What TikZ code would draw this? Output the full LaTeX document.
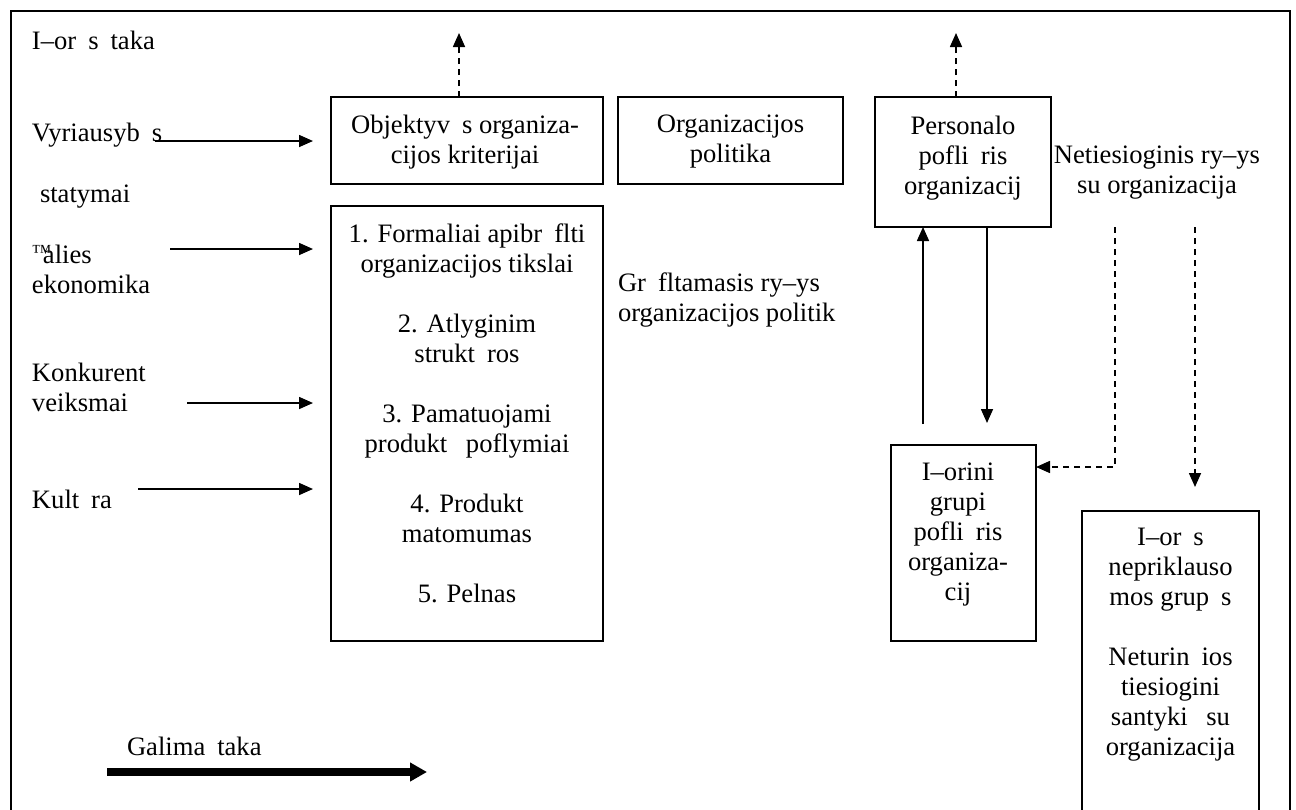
\documentclass[tikz,border=0pt]{standalone}
\usepackage{fontspec}
\setmainfont{Liberation Serif}
\usetikzlibrary{arrows.meta}
% gap standing in for a letter the source font could not show
\newcommand\lthole{\hspace{0.45em}}
\begin{document}
\begin{tikzpicture}[x=0.5pt,y=-0.5pt,
  txt/.style={font=\fontsize{13.3}{15}\selectfont, inner sep=0pt, outer sep=0pt, execute at begin node=\strut},
  box/.style={draw, line width=1pt, inner sep=0pt, outer sep=0pt},
  arr/.style={line width=0.8pt, -{Triangle[length=7pt,width=6pt]}},
  darr/.style={arr, dash pattern=on 3pt off 2.5pt},
  bigarr/.style={line width=4pt, -{Triangle[length=8.5pt,width=9pt]}}
]
\useasboundingbox (0,0) rectangle (1296,809);
\clip (0,0) rectangle (1296,809);

% outer frame (open at the bottom of the page)
\node[box, anchor=north west, minimum width=639.5pt, minimum height=420pt] (frame) at (11,11) {};

% boxes
\node[box, anchor=north west, minimum width=136pt,  minimum height=43.5pt]  (b1) at (331,97)  {};
\node[box, anchor=north west, minimum width=112.5pt,minimum height=43.5pt]  (b2) at (618,97)  {};
\node[box, anchor=north west, minimum width=88pt,   minimum height=65pt]    (b3) at (875,97)  {};
\node[box, anchor=north west, minimum width=136pt,  minimum height=217.5pt] (b4) at (331,206) {};
\node[box, anchor=north west, minimum width=72.5pt, minimum height=98pt]    (b5) at (891,445) {};
\node[box, anchor=north west, minimum width=88.5pt, minimum height=170pt]   (b6) at (1082,511) {};

% box texts
\node[txt, anchor=north, align=center] (t1) at (465,115)
  {Objektyv\lthole s organiza-\\cijos kriterijai};
\node[txt, anchor=north, align=center] (t2) at (730.5,115)
  {Organizacijos\\politika};
\node[txt, anchor=north, align=center] (t3) at (963,116)
  {Personalo\\pofli\lthole ris\\organizacij};
\node[txt, anchor=north, align=center] (t4) at (467,224)
  {1. Formaliai apibr\lthole flti\\organizacijos tikslai\\[15pt]
   2. Atlyginim\\strukt\lthole ros\\[15pt]
   3. Pamatuojami\\produkt\lthole\ poflymiai\\[15pt]
   4. Produkt\\matomumas\\[15pt]
   5. Pelnas};
\node[txt, anchor=north, align=center] (t5) at (958,463)
  {I–orini\\grupi\\pofli\lthole ris\\organiza-\\cij};
\node[txt, anchor=north, align=center] (t6) at (1170.5,528)
  {I–or\lthole s\\nepriklauso\\mos grup\lthole s\\[15pt]
   Neturin\lthole ios\\tiesiogini\\santyki\lthole\ su\\organizacija};

% free labels
\node[txt, anchor=north west] (l0) at (32,28) {I–or\lthole s\lthole taka};
\node[txt, anchor=north west] (l1) at (32,120) {Vyriausyb\lthole s};
\node[txt, anchor=north west] (l2) at (40,181) {statymai};
\node[txt, anchor=north west, align=left] (l3) at (32,245)
  {\raisebox{2.4pt}{\fontsize{10}{10}\selectfont ™}\kern-4.3pt alies\\ekonomika};
\node[txt, anchor=north west, align=left] (l4) at (32,363) {Konkurent\\veiksmai};
\node[txt, anchor=north west] (l5) at (32,487) {Kult\lthole ra};
\node[txt, anchor=north west] (l6) at (127,734) {Galima\lthole taka};
\node[txt, anchor=north west, align=left] (l7) at (618,273)
  {Gr\lthole fltamasis ry–ys\\organizacijos politik};
\node[txt, anchor=north, align=center] (l8) at (1157,146)
  {Netiesioginis ry–ys\\su organizacija};

% end points of the open connectors
\coordinate (u1) at (459,33);
\coordinate (u3) at (956,33);
\coordinate (s1) at (155,141);  \coordinate (e1) at (313,141);
\coordinate (s2) at (170,249);  \coordinate (e2) at (313,249);
\coordinate (s3) at (187,403);  \coordinate (e3) at (313,403);
\coordinate (s4) at (138,489);  \coordinate (e4) at (313,489);
\coordinate (p1) at (923,424);
\coordinate (p2) at (987,423);
\coordinate (d1) at (1115,227); \coordinate (k1) at (1115,467);
\coordinate (d2) at (1195,227); \coordinate (k2) at (1195,487);
\coordinate (g1) at (107,772);  \coordinate (g2) at (427,772);

% connectors
\draw[darr] (u1 |- b1.north) -- (u1);
\draw[darr] (u3 |- b3.north) -- (u3);
\draw[arr] (s1) -- (e1);
\draw[arr] (s2) -- (e2);
\draw[arr] (s3) -- (e3);
\draw[arr] (s4) -- (e4);
\draw[arr] (p1) -- (p1 |- b3.south);
\draw[arr] (p2 |- b3.south) -- (p2);
\draw[darr] (d1) -- (k1) -- (k1 -| b5.east);
\draw[darr] (d2) -- (k2);
\draw[bigarr] (g1) -- (g2);
\end{tikzpicture}
\end{document}
